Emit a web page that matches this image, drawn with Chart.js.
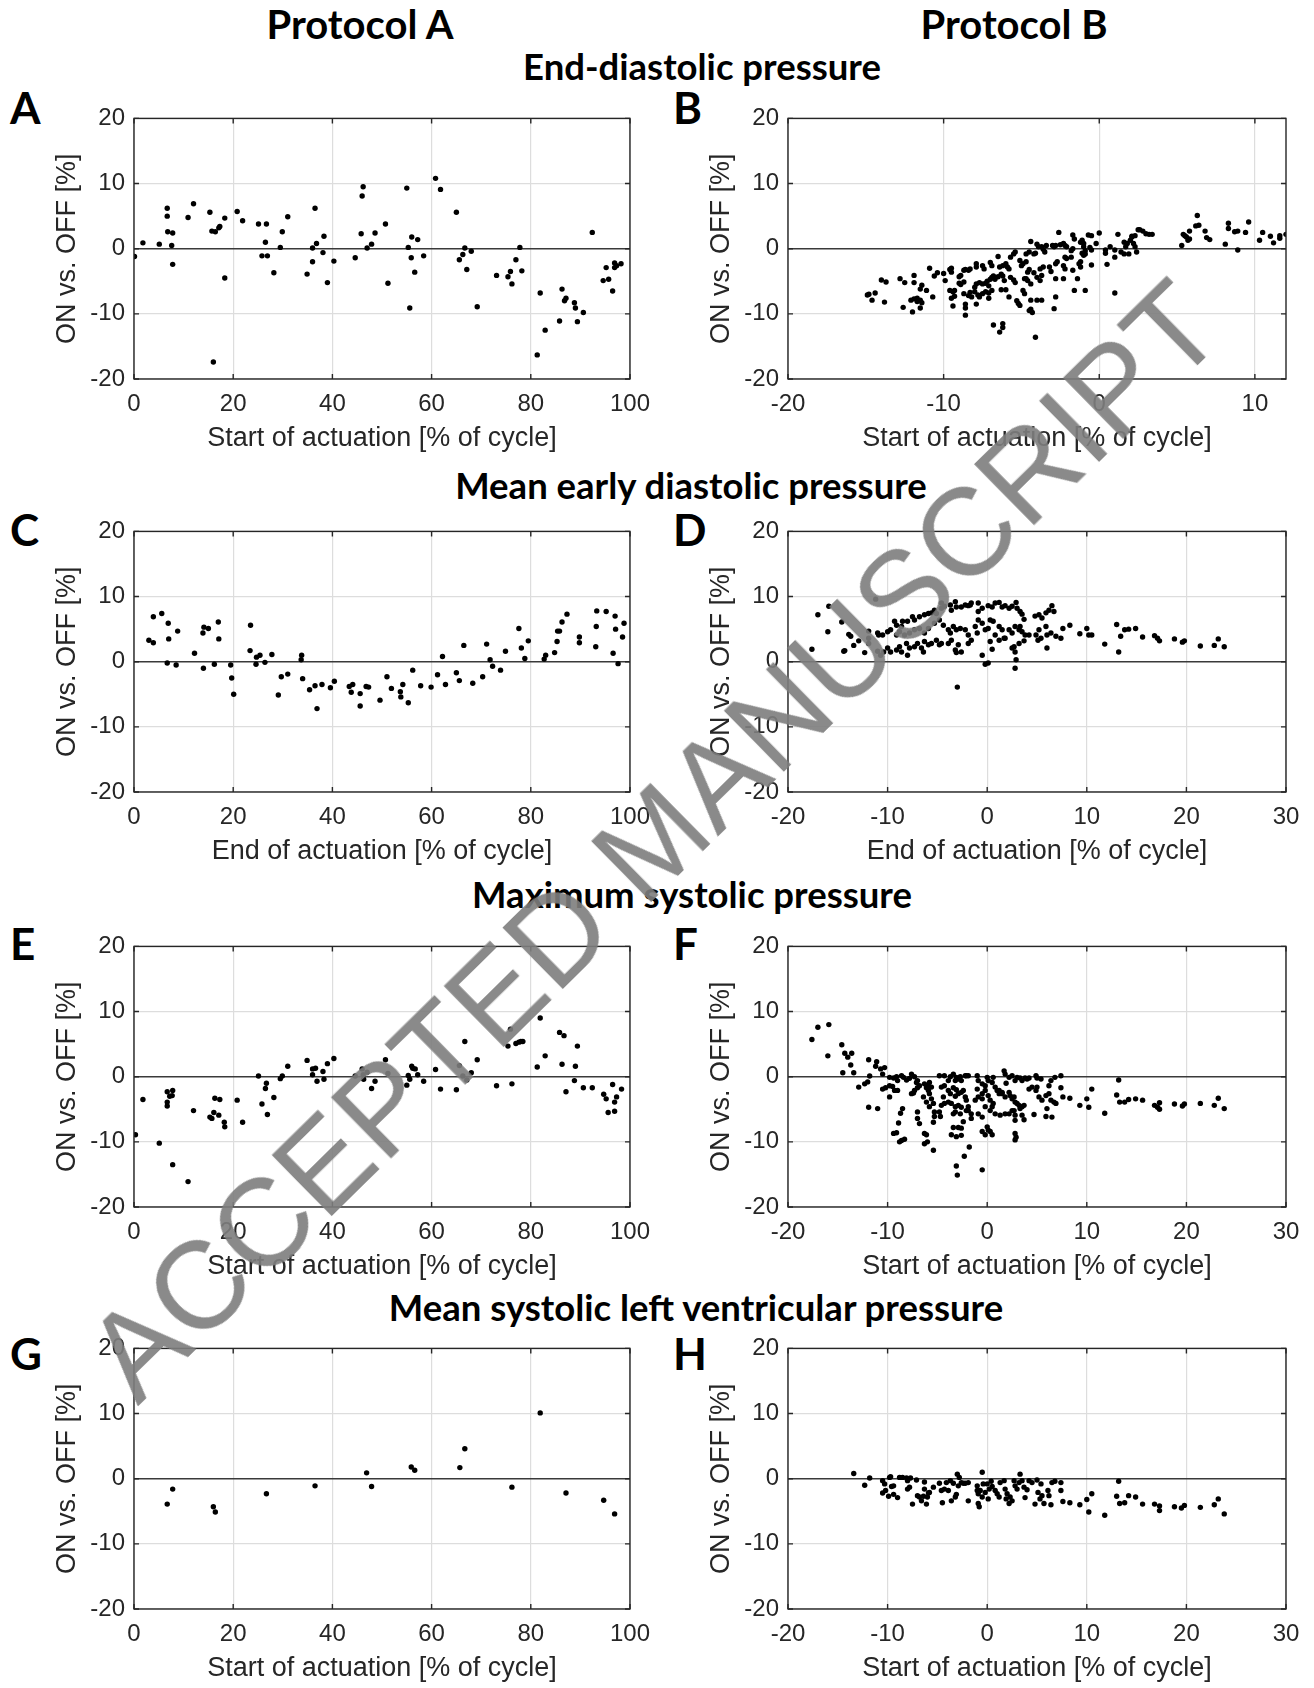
<!DOCTYPE html>
<html>
<head>
<meta charset="utf-8">
<script src="https://cdn.jsdelivr.net/npm/chart.js@4.4.0/dist/chart.umd.min.js"></script>
<style>
  body { margin: 0; background: #fff; width: 1314px; height: 1688px; position: relative; overflow: hidden; }
  canvas { position: absolute; }
  .t { position: absolute; font-family: Lato, sans-serif; font-weight: 700; line-height: 1; white-space: nowrap; color: #000; }
  .c { transform: translateX(-50%); }
  #wm {
    position: absolute; left: 653px; top: 840px; z-index: 10; pointer-events: none;
    transform: translate(-50%, -50%) rotate(-44.5deg);
    font-family: "Liberation Sans", Arial, sans-serif; font-size: 124px; line-height: 1;
    white-space: nowrap; color: rgba(125, 125, 125, 0.9);
  }
</style>
</head>
<body>

<div class="t c" style="left:360px;top:4px;font-size:40px">Protocol A</div>
<div class="t c" style="left:1014px;top:4px;font-size:40px">Protocol B</div>
<div class="t c" style="left:702px;top:48px;font-size:36.5px">End-diastolic pressure</div>
<div class="t c" style="left:691px;top:467px;font-size:36.5px">Mean early diastolic pressure</div>
<div class="t c" style="left:692px;top:876px;font-size:36.5px">Maximum systolic pressure</div>
<div class="t c" style="left:696px;top:1289px;font-size:36.5px">Mean systolic left ventricular pressure</div>

<div class="t" style="left:10px;top:85px;font-size:44px">A</div>
<div class="t" style="left:673px;top:85px;font-size:44px">B</div>
<div class="t" style="left:10px;top:507px;font-size:44px">C</div>
<div class="t" style="left:673px;top:507px;font-size:44px">D</div>
<div class="t" style="left:10px;top:921px;font-size:44px">E</div>
<div class="t" style="left:673px;top:921px;font-size:44px">F</div>
<div class="t" style="left:10px;top:1331px;font-size:44px">G</div>
<div class="t" style="left:673px;top:1331px;font-size:44px">H</div>

<canvas id="pA"></canvas><canvas id="pB"></canvas>
<canvas id="pC"></canvas><canvas id="pD"></canvas>
<canvas id="pE"></canvas><canvas id="pF"></canvas>
<canvas id="pG"></canvas><canvas id="pH"></canvas>

<div id="wm">ACCEPTED MANUSCRIPT</div>

<script>
// tick labels
const yTicks = [-20, -10, 0, 10, 20];
const xTicksPct = [0, 20, 40, 60, 80, 100];
const xTicksEdpB = [-20, -10, 0, 10];
const xTicksWide = [-20, -10, 0, 10, 20, 30];

const startLabel = 'Start of actuation [% of cycle]';
const endLabel = 'End of actuation [% of cycle]';
const yLabel = 'ON vs. OFF [%]';

// [timing, change] pairs
const edpA = [
  [0.1,-1.2],[1.8,0.9],[5.1,0.7],[6.7,6.2],[6.7,5.0],[6.8,2.6],[7.8,2.4],[7.6,0.5],[7.8,-2.4],[10.9,4.8],
  [12.0,6.9],[15.3,5.6],[15.7,2.7],[16.4,2.6],[17.1,3.2],[17.3,3.4],[16.0,-17.4],[18.3,4.7],[18.3,-4.5],[20.8,5.7],
  [21.9,4.3],[25.1,3.8],[26.7,3.8],[26.5,1.0],[25.8,-1.1],[26.9,-1.1],[28.2,-3.7],[29.5,0.2],[29.9,2.6],[31.0,4.9],
  [34.9,-3.9],[36.0,-2.0],[36.0,0.1],[36.5,6.2],[36.8,0.8],[38.1,-0.6],[38.3,1.9],[39.0,-5.2],[40.3,-1.9],[44.6,-1.4],
  [45.8,2.3],[46.0,8.1],[46.2,9.5],[47.0,0.1],[47.9,0.7],[48.6,2.4],[50.7,3.8],[51.2,-5.3],[55.0,9.3],[55.3,0.2],
  [55.6,-9.1],[56.0,1.8],[55.9,-1.4],[57.2,1.4],[56.6,-3.6],[58.4,-1.1],[60.8,10.8],[61.8,9.1],[65.0,5.6],[65.6,-1.7],
  [66.3,-0.9],[66.7,0.1],[68.0,-0.4],[67.1,-3.2],[69.2,-8.9],[73.1,-4.1],[75.4,-4.3],[75.9,-3.5],[76.2,-5.4],[77.0,-1.7],
  [77.8,0.2],[78.2,-3.4],[81.3,-16.3],[81.9,-6.8],[82.9,-12.5],[85.8,-11.1],[86.3,-6.2],[86.8,-8.0],[87.1,-7.6],[88.8,-8.3],
  [89.0,-9.1],[89.4,-11.2],[90.6,-9.8],[92.4,2.5],[94.6,-4.9],[95.2,-2.9],[95.7,-4.7],[96.5,-6.5],[96.9,-2.2],[96.9,-2.9],
  [97.3,-2.6],[98.2,-2.3]
];

const edpB = [
  [-14.9,-7.1],[-14.8,-7.0],[-14.4,-6.8],[-14.6,-7.9],[-14.0,-4.8],[-13.7,-5.1],[-13.8,-8.2],[-12.8,-4.6],[-12.5,-5.2],[-12.6,-9.0],
  [-12.0,-9.7],[-11.9,-4.1],[-11.9,-5.2],[-11.4,-5.6],[-11.5,-6.2],[-12.1,-7.9],[-11.9,-7.7],[-11.7,-8.1],[-11.5,-7.9],[-11.4,-8.3],
  [-11.5,-9.1],[-11.7,-7.6],[-11.1,-6.4],[-10.9,-3.0],[-10.7,-7.4],[-10.6,-4.2],[-10.4,-3.7],[-10.0,-3.8],[-9.9,-4.9],[-9.6,-3.2],
  [-9.5,-3.6],[-9.5,-3.0],[-9.6,-6.4],[-9.4,-6.6],[-9.3,-6.4],[-9.5,-7.6],[-9.3,-7.3],[-9.4,-8.8],[-8.7,-3.3],[-8.6,-3.2],
  [-8.4,-3.3],[-8.3,-3.1],[-9.0,-4.3],[-8.9,-4.1],[-9.0,-5.3],[-8.9,-5.5],[-8.7,-5.1],[-8.7,-6.9],[-8.4,-7.2],[-8.3,-6.7],
  [-8.2,-7.4],[-8.6,-8.5],[-8.6,-9.1],[-8.6,-10.2],[-8.0,-5.9],[-7.9,-5.4],[-7.7,-5.2],[-7.5,-5.4],[-7.3,-5.3],[-7.1,-5.7],
  [-8.0,-6.6],[-7.8,-7.1],[-7.7,-7.4],[-7.5,-6.9],[-7.3,-6.6],[-7.1,-6.8],[-6.9,-6.4],[-7.9,-8.5],[-7.9,-2.3],[-7.9,-2.8],
  [-7.5,-2.6],[-7.4,-3.1],[-7.0,-2.1],[-6.9,-2.6],[-7.2,-5.0],[-7.0,-4.7],[-6.9,-4.4],[-6.8,-4.2],[-6.7,-4.7],[-6.5,-4.3],
  [-6.3,-3.9],[-6.2,-4.2],[-6.1,-4.9],[-7.1,-7.6],[-6.8,-11.7],[-6.4,-12.8],[-6.2,-11.5],[-6.2,-12.1],[-6.5,-1.2],[-6.4,-2.8],
  [-6.2,-2.6],[-6.0,-2.3],[-5.9,-2.8],[-5.8,-3.1],[-6.3,-6.3],[-6.0,-6.3],[-5.8,-7.4],[-5.7,-1.3],[-5.5,-0.8],[-5.4,-0.5],
  [-5.7,-4.4],[-5.5,-4.8],[-5.4,-5.2],[-5.3,-8.0],[-5.2,-8.4],[-5.1,-8.7],[-5.1,-1.8],[-5.0,-2.6],[-4.9,-2.3],[-4.7,-2.0],
  [-4.9,-6.4],[-4.8,-6.9],[-4.8,-4.6],[-4.7,-4.6],[-4.6,-4.9],[-4.4,-5.4],[-4.7,-0.8],[-4.5,-0.5],[-4.2,-0.8],[-4.1,-0.7],
  [-4.6,-3.6],[-4.5,-3.2],[-4.2,-3.7],[-4.5,-9.5],[-4.4,-9.3],[-4.3,-9.8],[-4.4,-7.9],[-4.0,-7.9],[-3.7,-7.9],[-4.4,1.1],
  [-4.1,-13.6],[-4.0,0.7],[-3.9,0.3],[-3.7,0.3],[-3.6,-0.1],[-3.5,-0.5],[-3.4,0.5],[-4.0,-4.4],[-3.7,-4.1],[-3.8,-4.9],
  [-3.8,-3.1],[-3.6,-2.8],[-3.2,-2.8],[-3.1,-3.5],[-3.0,0.5],[-2.9,0.3],[-2.8,0.5],[-2.8,-2.3],[-2.7,-2.0],[-2.8,-4.6],
  [-2.3,-4.6],[-2.8,-7.4],[-2.9,-9.2],[-2.6,2.5],[-2.5,0.6],[-2.3,0.8],[-2.2,0.5],[-2.1,0.3],[-2.3,-2.6],[-2.2,-3.1],
  [-2.2,-1.3],[-2.1,-1.5],[-1.8,-0.3],[-1.8,-1.3],[-1.7,0.0],[-1.7,2.1],[-1.6,1.5],[-1.7,-3.3],[-1.6,-6.4],[-0.9,-6.4],
  [-1.4,-4.6],[-1.3,-2.3],[-1.2,-2.8],[-1.2,-2.0],[-1.2,1.0],[-1.1,1.3],[-1.0,0.8],[-1.0,0.3],[-0.9,-0.3],[-1.1,-0.7],
  [-1.0,-1.0],[-0.9,-0.8],[-0.7,2.1],[-0.5,2.0],[-0.6,0.2],[-0.5,-0.2],[-0.5,-2.5],[-0.2,0.8],[0.0,2.4],[0.4,-0.7],
  [0.4,-0.2],[0.5,-2.4],[0.7,0.3],[1.0,-0.2],[1.0,-1.3],[1.0,-6.8],[1.2,2.2],[1.4,-0.5],[1.6,-0.8],[1.6,1.0],
  [1.7,0.3],[1.8,0.8],[1.9,-0.8],[2.0,1.3],[2.1,1.8],[2.2,0.8],[2.3,0.3],[2.4,-0.5],[2.1,1.9],[2.3,2.0],
  [2.5,2.9],[2.6,2.9],[2.8,2.7],[3.0,2.3],[3.2,2.2],[3.4,2.2],[5.3,0.5],[5.4,2.2],[5.5,2.0],[5.6,1.8],
  [5.7,1.3],[5.8,1.5],[5.8,2.7],[6.2,3.5],[6.4,3.6],[6.3,5.1],[6.8,2.7],[6.9,1.7],[7.1,1.4],[8.1,0.7],
  [8.3,3.9],[8.3,3.1],[8.7,2.6],[8.9,2.7],[8.9,-0.2],[9.4,2.5],[9.6,4.1],[10.3,1.3],[10.5,2.5],[11.0,1.9],
  [11.2,0.9],[11.6,1.6],[11.6,2.0],[12.0,2.2]
];

const medpA = [
  [3.0,3.3],[3.9,2.9],[3.9,6.9],[5.6,7.4],[6.9,5.9],[7.0,3.5],[6.7,-0.2],[8.5,-0.5],[8.8,4.7],[12.2,1.3],
  [13.9,4.4],[14.1,5.3],[15.0,5.1],[14.0,-1.0],[16.2,-0.4],[17.0,6.1],[17.1,3.5],[19.5,-0.5],[19.7,-2.5],[20.1,-5.0],
  [23.4,1.7],[23.5,5.6],[24.6,-0.4],[24.7,0.7],[25.4,1.0],[26.4,-0.1],[27.8,1.1],[29.1,-5.1],[29.7,-2.3],[31.0,-1.9],
  [33.8,1.0],[33.7,0.3],[34.0,-2.6],[35.4,-4.3],[36.5,-3.7],[36.9,-7.2],[37.9,-3.5],[39.6,-4.0],[40.4,-3.0],[43.4,-3.8],
  [43.8,-4.7],[44.1,-3.5],[45.6,-4.9],[45.6,-6.8],[46.8,-3.8],[47.3,-3.9],[49.6,-5.9],[51.0,-2.3],[51.9,-4.1],[53.7,-4.6],
  [53.8,-5.4],[54.2,-3.5],[55.3,-6.3],[56.2,-1.3],[57.8,-3.7],[59.9,-3.9],[61.2,-2.0],[62.2,0.8],[62.8,-3.5],[65.0,-1.7],
  [65.6,-2.9],[66.5,2.5],[68.3,-3.3],[70.3,-2.3],[71.1,2.7],[71.8,0.3],[72.3,-0.7],[73.9,-1.3],[74.9,1.6],[77.6,5.1],
  [78.1,2.1],[78.8,0.5],[79.5,3.2],[82.7,0.4],[83.0,1.0],[84.8,1.4],[85.3,3.1],[85.4,4.7],[85.8,4.7],[86.3,6.1],
  [87.3,7.3],[89.8,3.8],[89.8,2.9],[93.1,2.3],[93.2,5.4],[93.3,7.8],[95.2,7.7],[96.6,1.3],[97.0,7.0],[97.1,5.0],
  [97.6,-0.3],[98.5,3.8],[98.8,5.9]
];

const medpB = [
  [-17.6,1.9],[-17.0,7.2],[-15.9,8.5],[-16.0,4.6],[-14.6,6.1],[-14.4,1.6],[-14.3,1.7],[-13.9,4.2],[-13.7,3.9],[-13.4,2.5],
  [-12.9,3.2],[-12.3,1.4],[-11.9,4.7],[-11.9,3.6],[-11.9,2.8],[-11.2,9.6],[-11.0,1.6],[-10.9,4.1],
  [-9.3,6.2],[-9.1,5.6],[-8.6,5.4],[-8.5,6.2],[-8.0,6.2],[-7.5,6.9],[-7.3,6.4],[-6.8,6.9],[-6.3,7.2],[-5.9,7.4],
  [-5.6,7.5],[-5.3,7.9],[-5.1,7.4],[-4.6,9.0],[-4.6,8.2],[-4.3,8.5],[-3.7,8.7],[-3.6,7.9],[-3.2,9.2],[-3.1,8.4],
  [-2.6,8.4],[-2.2,8.7],[-1.9,8.6],[-1.7,8.7],[-1.6,9.0],[-0.9,9.0],[-0.9,7.7],[-0.5,8.2],[0.1,8.6],[0.5,8.4],
  [0.8,9.0],[1.2,9.1],[1.5,8.4],[1.8,8.6],[2.2,8.2],[2.5,8.5],[2.9,9.1],[3.0,8.2],[3.3,7.7],[3.5,7.3],
  [3.7,6.5],[4.8,7.0],[5.2,7.2],[5.5,6.7],[5.9,7.5],[6.2,7.9],[6.5,8.6],[6.7,7.7],
  [-11.0,4.4],[-10.5,4.1],[-10.0,4.6],[-9.7,4.9],[-9.1,4.1],[-8.8,4.6],[-8.3,4.1],[-7.8,4.4],[-7.3,4.9],[-6.8,5.1],
  [-6.3,4.4],[-5.9,5.1],[-5.3,5.9],[-4.8,6.4],[-4.4,5.6],[-3.9,4.9],[-3.7,4.4],[-3.4,5.4],[-3.1,4.9],[-2.7,5.1],
  [-2.2,4.9],[-1.9,4.1],[-1.2,5.4],[-1.0,4.4],[-0.9,6.4],[-0.5,5.9],[-0.2,4.9],[0.1,5.1],[0.3,6.4],[0.6,6.2],
  [0.8,4.1],[1.2,5.4],[1.5,4.9],[1.8,3.6],[2.2,4.9],[2.5,4.4],[2.8,5.4],[3.2,4.9],[3.3,5.4],[3.5,4.6],
  [3.8,4.1],[4.2,4.1],[4.9,4.1],[5.2,4.9],[5.4,3.6],[5.9,5.4],[6.0,4.1],[6.4,4.4],[6.9,3.9],[7.4,3.6],[7.6,5.1],
  [-10.7,1.0],[-10.4,1.5],[-10.0,2.1],[-9.7,1.5],[-9.1,1.8],[-8.8,2.3],[-8.6,1.5],[-8.1,2.8],[-8.0,1.0],[-7.8,2.1],
  [-7.3,2.3],[-7.0,2.8],[-6.6,2.1],[-6.4,1.5],[-6.3,3.1],[-5.9,2.6],[-5.6,2.8],[-5.1,3.3],[-4.8,2.6],[-4.6,2.8],
  [-3.9,2.8],[-3.6,3.3],[-3.2,1.8],[-3.1,1.4],[-2.9,2.6],[-2.6,1.5],[-1.9,2.8],[-1.6,3.3],[-0.5,1.0],[-0.2,-0.4],
  [0.1,-0.2],[0.3,3.1],[0.5,1.9],[1.2,3.3],[1.7,3.6],[2.5,2.1],[2.7,2.3],[2.8,1.5],[2.9,0.3],[2.8,-1.0],
  [3.2,2.8],[3.7,3.2],[5.1,3.3],[6.0,2.1],[-3.0,-3.9],
  [8.3,5.6],[9.3,4.3],[10.0,5.1],[10.2,4.1],[10.5,4.1],[11.8,2.7],[13.0,5.7],[13.2,1.5],[13.4,3.9],[13.8,4.9],
  [14.2,5.0],[14.9,5.1],[15.6,3.8],[16.8,4.0],[17.1,3.6],[17.3,3.2],[18.8,3.5],[19.6,3.0],[19.8,3.2],[21.4,2.4],
  [22.8,2.5],[23.2,3.5],[23.8,2.3]
];

const mspA = [
  [0.3,-8.9],[1.8,-3.5],[5.1,-10.2],[6.7,-2.3],[6.7,-3.9],[6.7,-4.5],[7.2,-3.0],[7.7,-2.9],[7.8,-2.1],[7.8,-13.5],
  [10.9,-16.1],[12.0,-5.2],[15.3,-6.2],[15.7,-6.4],[16.1,-5.5],[16.3,-3.3],[17.1,-5.9],[17.3,-3.5],[18.2,-7.0],[18.3,-7.7],
  [20.8,-3.6],[21.9,-7.0],[25.1,0.1],[25.8,-4.2],[26.5,-1.8],[26.7,-1.0],[26.9,-5.8],[28.2,-3.2],[29.5,-0.3],[29.9,0.1],
  [31.0,1.6],[34.9,2.5],[36.0,1.2],[36.0,0.3],[36.6,1.3],[36.9,-0.7],[38.1,0.8],[38.3,-0.4],[39.0,2.0],[40.3,2.8],
  [44.6,0.1],[46.0,1.2],[46.2,0.3],[46.3,-0.4],[47.0,0.7],[47.9,-1.8],[48.6,-0.7],[50.7,2.6],[51.2,0.5],[55.0,-1.3],
  [55.3,0.2],[55.6,-0.4],[56.0,1.6],[56.2,1.3],[56.7,1.2],[57.2,0.3],[58.4,-0.7],[60.8,1.1],[61.8,-1.9],[65.0,-2.0],
  [65.6,1.7],[66.3,0.1],[66.7,5.4],[67.1,-0.5],[68.0,0.6],[69.2,2.6],[73.1,-1.4],[75.4,4.7],[75.9,7.3],[76.2,-1.1],
  [77.0,5.1],[77.6,5.3],[78.0,5.4],[78.4,5.4],[81.3,1.5],[81.9,9.0],[82.9,3.2],[85.8,6.8],[86.3,1.9],[86.7,6.3],
  [87.1,-2.3],[88.8,-0.6],[89.0,1.6],[89.4,4.7],[90.6,-1.7],[92.4,-1.7],[94.7,-2.7],[95.2,-3.4],[95.6,-5.5],[96.5,-1.2],
  [96.9,-3.9],[96.9,-5.3],[97.3,-3.1],[98.3,-1.9]
];

const mspB = [
  [-17.6,5.7],[-17.0,7.6],[-15.9,8.0],[-16.0,3.2],[-14.6,4.9],[-14.5,0.6],[-14.3,3.6],[-14.0,3.0],[-13.6,3.6],[-13.7,1.8],
  [-13.4,0.6],[-12.9,-1.6],[-12.3,-1.1],[-12.0,-0.8],[-11.8,0.1],[-11.9,2.6],[-11.9,-4.7],[-11.1,2.3],[-11.2,1.6],[-10.7,1.2],
  [-10.3,1.4],[-10.5,0.4],[-11.0,-4.9],[-9.8,-3.1],
  [-9.8,-0.1],[-9.4,-0.2],[-9.1,0.0],[-9.0,-0.6],[-8.6,0.15],[-8.4,-0.1],[-8.1,-0.5],[-7.8,-0.25],[-7.6,0.4],[-7.3,0.0],
  [-7.1,-0.9],[-7.0,-0.6],[-10.5,-1.9],[-10.2,-1.7],[-9.8,-1.4],[-9.5,-1.5],[-9.3,-2.1],[-9.0,-2.1],[-7.6,-2.6],[-7.4,-2.5],
  [-7.3,-2.1],[-7.0,-1.7],[-6.8,-1.4],[-6.3,-1.1],[-6.1,-1.7],[-5.9,-2.1],[-5.8,-2.6],[-5.6,-3.4],[-5.4,-4.1],[-5.8,-4.6],
  [-6.1,-3.9],[-6.4,-3.1],[-6.0,-1.4],[-5.8,-0.9],[-5.6,-1.6],[-4.8,0.15],[-4.3,0.15],[-3.9,-0.6],[-3.7,0.0],[-3.4,0.4],
  [-3.2,-0.6],[-3.1,-0.1],[-2.9,-0.35],[-2.7,0.0],[-2.6,-0.6],[-2.2,0.15],[-2.1,0.15],[-1.9,0.15],[-4.6,-1.6],[-4.4,-3.1],
  [-4.3,-1.4],[-3.9,-2.1],[-3.7,-2.6],[-3.4,-1.7],[-3.2,-3.0],[-3.1,-2.0],[-2.9,-2.6],[-2.6,-2.4],[-2.2,-3.1],[-2.1,-3.6],
  [-2.4,-2.1],[-1.9,-4.6],[-2.1,-5.2],[-2.6,-4.7],[-2.9,-4.4],[-3.2,-4.6],[-3.6,-4.1],[-3.9,-3.9],[-4.3,-4.1],[-4.6,-4.4],
  [-3.4,-5.7],[-3.2,-5.4],[-2.7,-5.7],[-2.4,-6.9],[-1.9,-5.2],[-1.6,-5.7],[-1.6,-6.4],[-3.4,-7.8],[-2.9,-7.8],[-2.6,-7.9],
  [-3.6,-8.9],[-3.1,-9.2],[-2.6,-9.0],[-2.3,-12.2],[-1.8,-10.8],[-3.1,-13.7],[-3.0,-15.1],[-0.5,-14.3],
  [-1.0,0.15],[-0.9,-0.6],[-0.5,-1.1],[-0.2,-1.4],[0.0,-0.1],[0.1,-0.6],[0.5,-0.9],[0.6,-0.1],[0.8,-1.6],[1.2,-2.1],
  [1.5,-2.6],[1.7,0.9],[1.8,0.4],[1.9,-1.0],[2.2,-0.1],[2.5,0.15],[2.8,-0.6],[3.0,-0.1],[3.3,-0.2],[3.5,-0.6],
  [3.8,-0.2],[4.0,-0.35],[4.2,-0.2],[4.9,0.15],[5.0,-0.2],[5.4,-0.35],[6.4,-0.6],[6.2,-1.4],[6.8,-0.1],[7.4,0.15],
  [-1.0,-1.9],[-0.9,-3.1],[-0.5,-2.6],[-0.2,-2.1],[0.1,-2.9],[0.3,-3.6],[0.5,-4.6],[0.6,-4.1],[1.0,-2.1],[1.2,-2.6],
  [1.5,-2.4],[1.8,-3.1],[2.2,-2.4],[2.3,-2.9],[2.5,-3.4],[2.7,-3.1],[2.8,-3.9],[3.0,-4.1],[3.2,-4.4],[3.3,-4.9],
  [3.5,-4.6],[3.7,-4.4],[2.5,-5.2],[2.2,-5.7],[1.8,-5.7],[1.3,-5.9],[0.8,-5.7],[0.3,-5.2],[-0.2,-4.6],[-0.5,-3.4],
  [-1.2,-3.6],[-0.9,-5.7],[-0.5,-6.2],[0.0,-7.7],[0.1,-8.2],[-0.2,-8.9],[0.5,-8.9],[0.3,-8.4],[-0.5,-8.4],
  [2.7,-5.2],[2.8,-5.9],[2.8,-6.7],[2.8,-8.7],[2.9,-9.3],[2.8,-9.7],[3.5,-5.9],[3.7,-6.6],[4.7,-5.8],[5.9,-6.1],
  [6.5,-6.2],[4.2,-1.9],[4.5,-1.6],[4.9,-2.1],[5.0,-1.6],[5.2,-3.1],[5.5,-3.6],[5.9,-2.9],[6.0,-4.9],[6.2,-2.6],
  [6.4,-3.6],[6.7,-3.9],[6.9,-4.1],[7.4,-1.7],[7.6,-3.1],
  [-8.9,-7.1],[-9.4,-8.7],[-9.1,-8.6],[-8.8,-10.0],[-8.6,-9.8],[-8.3,-9.6],[-8.7,-5.6],[-8.5,-4.9],[-7.0,-5.4],[-7.0,-6.4],
  [-6.8,-7.2],[-6.3,-8.7],[-6.1,-8.9],[-6.3,-10.3],[-6.0,-10.0],[-5.4,-11.3],[-5.3,-5.4],[-5.3,-6.1],[-4.8,-5.4],[-4.7,-6.1],
  [-5.4,-7.0],
  [8.3,-3.3],[9.3,-4.4],[10.0,-3.4],[10.2,-4.7],[10.5,-1.9],[11.8,-5.6],[13.0,-2.8],[13.2,-0.5],[13.3,-3.9],[13.8,-3.9],
  [14.2,-3.5],[14.9,-3.4],[15.6,-3.6],[16.8,-4.4],[17.1,-4.7],[17.3,-4.0],[17.3,-5.0],[18.8,-4.2],[19.6,-4.5],[19.8,-4.2],
  [21.4,-4.1],[22.8,-4.4],[23.2,-3.3],[23.8,-4.9]
];

const mslvpA = [
  [6.7,-3.9],[7.8,-1.6],[16.0,-4.3],[16.4,-5.1],[26.7,-2.3],[36.5,-1.1],[46.9,0.9],[47.9,-1.2],[55.9,1.8],[56.6,1.3],
  [65.7,1.7],[66.7,4.6],[76.2,-1.3],[81.9,10.1],[87.1,-2.2],[94.7,-3.3],[96.9,-5.4]
];

const mslvpB = [
  [-13.4,0.8],[-12.3,-1.0],[-11.8,0.1],
  [-10.5,-0.3],[-10.3,-0.8],[-10.5,-2.2],[-10.2,-1.8],[-9.9,-2.7],[-9.8,0.2],[-9.7,0.3],[-9.6,-1.2],[-9.4,-1.1],[-9.4,-2.4],
  [-9.0,-2.9],[-8.8,0.2],[-8.5,0.2],[-8.1,0.1],[-8.0,-0.3],[-8.0,-1.6],[-7.8,-1.3],[-7.7,0.1],[-7.5,-3.9],[-7.1,-0.2],
  [-7.0,-2.6],[-6.8,-2.8],[-6.6,-3.4],[-6.4,-2.7],[-6.3,-0.5],[-6.3,-1.6],[-6.1,-3.9],[-6.0,-2.8],[-5.9,-2.2],[-5.8,-2.1],
  [-5.4,-1.3],[-4.8,-0.7],[-4.6,-1.8],[-4.5,-3.7],[-4.3,-1.6],[-4.1,-0.6],[-3.9,-1.8],[-3.7,-0.3],[-3.6,-3.4],[-3.4,-0.7],
  [-3.2,-2.8],[-3.1,-2.4],[-3.0,0.7],[-2.9,-1.1],[-2.8,0.2],[-2.6,-0.6],[-2.4,-0.7],[-2.2,-0.7],[-1.9,-0.6],[-1.9,-3.4],
  [-1.0,-1.1],[-1.0,-1.8],[-0.9,-3.8],[-0.9,-2.3],[-0.8,-4.3],[-0.7,-1.8],[-0.5,1.0],[-0.5,-2.8],[-0.4,-0.8],[-0.2,-2.1],
  [0.0,-0.8],[0.1,-3.1],[0.2,-1.6],[0.4,-0.4],[0.5,-1.2],[0.8,-1.8],[1.0,-2.3],[1.2,-2.8],[1.3,-0.6],[1.7,-0.3],
  [1.8,-1.6],[1.9,-3.1],[2.0,-2.3],[2.2,-3.8],[2.3,-2.8],[2.5,-3.4],[2.7,-0.3],[2.8,-1.1],[3.0,-1.6],[3.2,-0.6],
  [3.3,0.7],[3.5,-0.3],[3.7,-1.3],[3.8,-2.9],[4.0,-1.7],[4.2,-0.3],[4.5,-0.6],[4.8,-3.9],[5.0,-0.2],[5.1,-2.1],
  [5.3,-3.1],[5.4,-0.8],[5.5,-2.6],[5.7,-3.8],[6.1,-1.8],[6.2,-2.6],[6.4,-4.0],[6.5,-0.6],[6.8,-0.4],[7.4,-0.6],
  [7.4,-1.8],[7.6,-3.5],
  [8.3,-3.7],[9.3,-4.0],[10.0,-3.2],[10.2,-5.1],[10.5,-2.3],[11.8,-5.6],[13.0,-2.7],[13.2,-0.4],[13.3,-3.8],[13.8,-3.7],
  [14.2,-2.6],[14.9,-2.8],[15.6,-3.9],[16.8,-3.9],[17.3,-4.2],[17.3,-4.9],[18.8,-4.3],[19.5,-4.5],[19.8,-4.1],[21.4,-4.4],
  [22.8,-4.0],[23.2,-3.1],[23.8,-5.4]
];

// box around plot area plus inward tick marks, like the original axes
const framePlugin = {
  id: 'frame',
  afterDatasetsDraw(chart) {
    const { ctx, chartArea: a, scales: { x, y } } = chart;
    ctx.save();
    ctx.strokeStyle = '#262626';
    ctx.lineWidth = 1.4;
    ctx.strokeRect(a.left, a.top, a.right - a.left, a.bottom - a.top);
    ctx.beginPath();
    x.ticks.forEach(t => {
      const px = x.getPixelForValue(t.value);
      ctx.moveTo(px, a.bottom); ctx.lineTo(px, a.bottom - 5);
      ctx.moveTo(px, a.top); ctx.lineTo(px, a.top + 5);
    });
    y.ticks.forEach(t => {
      const py = y.getPixelForValue(t.value);
      ctx.moveTo(a.left, py); ctx.lineTo(a.left + 5, py);
      ctx.moveTo(a.right, py); ctx.lineTo(a.right - 5, py);
    });
    ctx.stroke();
    ctx.restore();
  }
};

const tickFont = { family: '"Liberation Sans", Arial, sans-serif', size: 24 };
const titleFont = { family: '"Liberation Sans", Arial, sans-serif', size: 27 };

function makeChart(id, pts, xMin, xMax, xTicks, xTitle, box) {
  const padL = 95, padT = 18, padR = 30, padB = 80;
  const cv = document.getElementById(id);
  cv.width = padL + box.w + padR;
  cv.height = padT + box.h + padB;
  cv.style.left = (box.x - padL) + 'px';
  cv.style.top = (box.y - padT) + 'px';

  new Chart(cv, {
    type: 'scatter',
    data: {
      datasets: [{
        data: pts.map(p => ({ x: p[0], y: p[1] })),
        backgroundColor: '#000',
        borderWidth: 0,
        pointRadius: 2.7
      }]
    },
    options: {
      responsive: false,
      animation: false,
      devicePixelRatio: 1,
      layout: { padding: { top: padT, right: padR, left: 0, bottom: 0 } },
      plugins: { legend: { display: false }, tooltip: { enabled: false } },
      scales: {
        x: {
          type: 'linear', min: xMin, max: xMax,
          afterBuildTicks: s => { s.ticks = xTicks.map(v => ({ value: v })); },
          afterFit: s => { s.height = padB; },
          ticks: { font: tickFont, color: '#262626', padding: 11, maxRotation: 0 },
          grid: { color: '#dddddd', lineWidth: 1.2, drawTicks: false },
          border: { display: false },
          title: { display: true, text: xTitle, font: titleFont, color: '#262626', padding: { top: 0, bottom: 4 } }
        },
        y: {
          type: 'linear', min: -20, max: 20,
          afterBuildTicks: s => { s.ticks = yTicks.map(v => ({ value: v })); },
          afterFit: s => { s.width = padL; },
          ticks: { font: tickFont, color: '#262626', padding: 9 },
          grid: {
            color: c => (c.tick && c.tick.value === 0) ? '#3a3a3a' : '#dddddd',
            lineWidth: c => (c.tick && c.tick.value === 0) ? 1.6 : 1.2,
            drawTicks: false
          },
          border: { display: false },
          title: { display: true, text: yLabel, font: titleFont, color: '#262626', padding: { top: 12, bottom: 0 } }
        }
      }
    },
    plugins: [framePlugin]
  });
}

const colL = { x: 133.5, w: 497 };
const colR = { x: 787.5, w: 498 };
const rows = [
  { y: 112.5, h: 266.5 },
  { y: 526, h: 266.5 },
  { y: 940.5, h: 266.5 },
  { y: 1342.5, h: 266.5 }
];
const box = (c, r) => ({ x: c.x, w: c.w, y: r.y, h: r.h });

makeChart('pA', edpA, 0, 100, xTicksPct, startLabel, box(colL, rows[0]));
makeChart('pB', edpB, -20, 12, xTicksEdpB, startLabel, box(colR, rows[0]));
makeChart('pC', medpA, 0, 100, xTicksPct, endLabel, box(colL, rows[1]));
makeChart('pD', medpB, -20, 30, xTicksWide, endLabel, box(colR, rows[1]));
makeChart('pE', mspA, 0, 100, xTicksPct, startLabel, box(colL, rows[2]));
makeChart('pF', mspB, -20, 30, xTicksWide, startLabel, box(colR, rows[2]));
makeChart('pG', mslvpA, 0, 100, xTicksPct, startLabel, box(colL, rows[3]));
makeChart('pH', mslvpB, -20, 30, xTicksWide, startLabel, box(colR, rows[3]));
</script>
</body>
</html>
